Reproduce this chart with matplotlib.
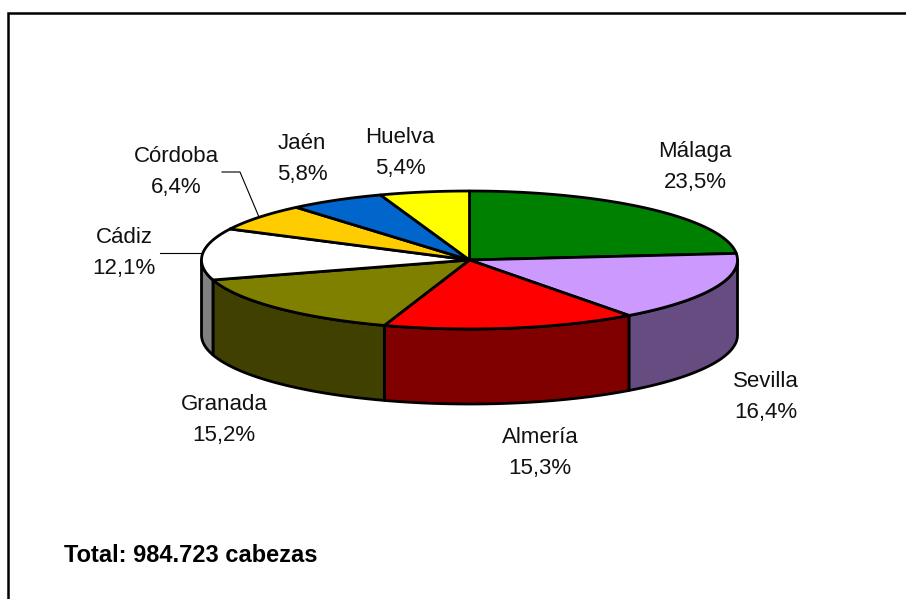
import numpy as np
import matplotlib
matplotlib.use("Agg")
import matplotlib.pyplot as plt

plt.rcParams["font.family"] = ["Liberation Sans", "DejaVu Sans"]

provinces = ["Málaga", "Sevilla", "Almería", "Granada", "Cádiz", "Córdoba", "Jaén", "Huelva"]
shares = [23.5, 16.4, 15.3, 15.2, 12.1, 6.4, 5.8, 5.4]
total_label = "Total: 984.723 cabezas"

top_colors = ["#008000", "#CC99FF", "#FF0000", "#808000", "#FFFFFF", "#FFCC00", "#0066CC", "#FFFF00"]
side_colors = ["#004000", "#664C80", "#800000", "#404000", "#808080", "#806600", "#003366", "#808000"]

# label centres in pixels
label_pos = [(695, 167), (766, 397), (540, 453), (224, 420), (124, 253), (176, 172), (302, 159), (400, 153)]

cx, cy = 469.5, 260
rx, ry = 268, 69
depth = 75

fig = plt.figure(figsize=(9.06, 5.99), dpi=100)
ax = fig.add_axes([0, 0, 1, 1])
ax.set_xlim(0, 906)
ax.set_ylim(599, 0)
ax.axis("off")


def rim(a0, a1, drop=0):
    # angles in degrees, clockwise from the top of the pie
    t = np.radians(np.linspace(a0, a1, max(int(abs(a1 - a0)) * 2, 2)))
    return cx + rx * np.sin(t), cy - ry * np.cos(t) + drop


edges = np.concatenate([[0], np.cumsum(shares)]) / sum(shares) * 360

# walls first, only the front half of the pie shows them
for i in range(len(shares)):
    a0, a1 = max(edges[i], 90), min(edges[i + 1], 270)
    if a1 <= a0:
        continue
    x, y = rim(a0, a1)
    xb, yb = rim(a0, a1, depth)
    ax.fill(np.r_[x, xb[::-1]], np.r_[y, yb[::-1]], facecolor=side_colors[i],
            edgecolor="black", lw=2.0, joinstyle="round")

# top of the pie
for i in range(len(shares)):
    x, y = rim(edges[i], edges[i + 1])
    ax.fill(np.r_[cx, x], np.r_[cy, y], facecolor=top_colors[i],
            edgecolor="black", lw=2.0, joinstyle="round")

# leader lines
ax.plot([160, 202], [253, 253], color="black", lw=0.8)
ax.plot([222, 240, 259], [172, 172, 217], color="black", lw=0.8)

for name, share, pos in zip(provinces, shares, label_pos):
    txt = f"{share:.1f}%".replace(".", ",")
    ax.text(pos[0], pos[1], f"{name}\n{txt}", ha="center", va="center",
            fontsize=16, linespacing=1.65, color="#111111")

ax.text(64, 556, total_label, ha="left", va="center", fontsize=17,
        fontweight="bold", color="black")

# chart frame, only top and left are in the picture
ax.plot([8, 8, 906], [599, 13, 13], color="black", lw=1.8, solid_joinstyle="miter")

fig.savefig("out.png", dpi=100)
